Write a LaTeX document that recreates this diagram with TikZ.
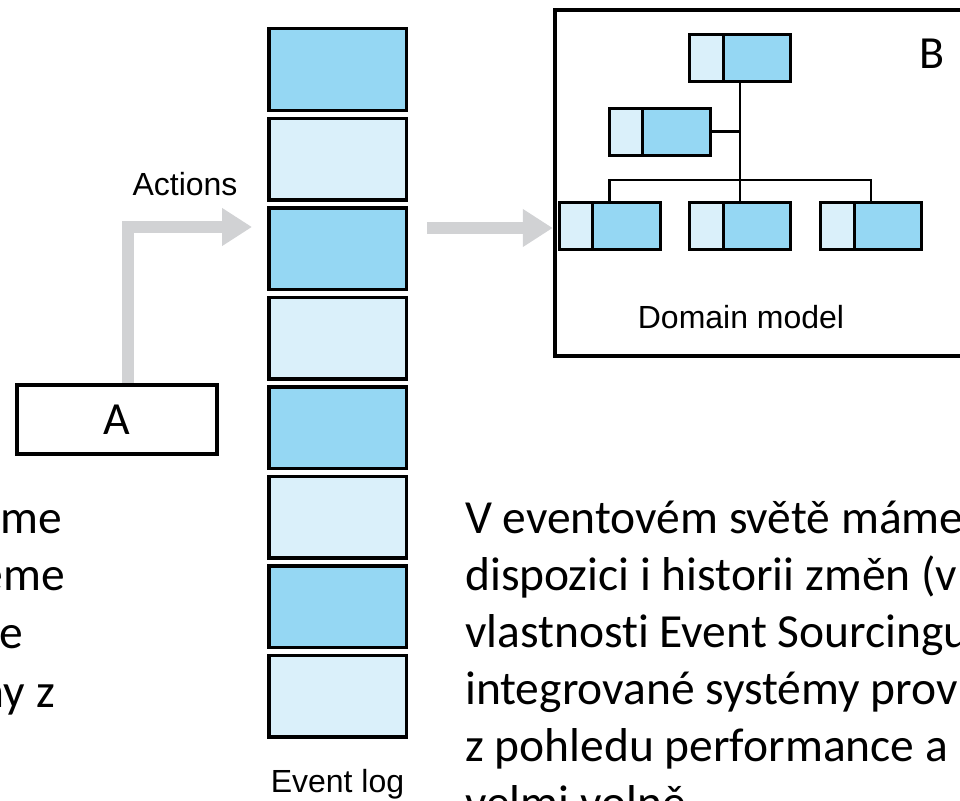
\documentclass[tikz,border=0pt]{standalone}
\usepackage{fontspec}
\setmainfont{Carlito}[Ligatures=NoCommon]
\newfontfamily\labelfont{Liberation Sans}
\usetikzlibrary{arrows.meta,positioning}
\definecolor{celldark}{HTML}{95D7F3}
\definecolor{celllight}{HTML}{DAF0FA}
\definecolor{arrowgrey}{HTML}{D1D2D4}
\tikzset{
  logcell/.style   = {shape=rectangle, draw, line width=3.5pt,
                      minimum width=137.5pt, minimum height=81.5pt,
                      inner sep=0pt},
  darkcell/.style  = {logcell, fill=celldark},
  lightcell/.style = {logcell, fill=celllight},
  classbox/.style  = {
    shape=rectangle, draw, line width=3pt,
    fill=celldark,
    minimum width=101pt, minimum height=47pt, inner sep=0pt,
    path picture={
      \fill[celllight] (path picture bounding box.south west)
        rectangle ([xshift=33.5pt]path picture bounding box.north west);
      \draw[line width=3pt] ([xshift=33.5pt]path picture bounding box.south west)
        -- ([xshift=33.5pt]path picture bounding box.north west);
      }
    },
  component/.style = {shape=rectangle, draw, line width=4.5pt, inner sep=0pt},
  caption/.style   = {font=\labelfont\fontsize{32}{38}\selectfont},
  letter/.style    = {font=\fontsize{46}{55}\selectfont},
  slidetext/.style = {font=\fontsize{47.5}{57}\selectfont, inner sep=0pt},
  bigarrow/.style  = {draw=arrowgrey, line width=12pt,
                      -{Triangle[length=30pt,width=36pt]}}
}
\begin{document}
\begin{tikzpicture}[x=1pt, y=-1pt]
    \useasboundingbox (0,0) rectangle (960,800);
    \clip (0,0) rectangle (960,800);

    % event log
    \node [darkcell] (cell1) at (337.5,69.5) {};
    \node [lightcell, below=4.5pt of cell1] (cell2) {};
    \node [darkcell, below=4.5pt of cell2] (cell3) {};
    \node [lightcell, below=4.5pt of cell3] (cell4) {};
    \node [darkcell, below=4.5pt of cell4] (cell5) {};
    \node [lightcell, below=4.5pt of cell5] (cell6) {};
    \node [darkcell, below=4.5pt of cell6] (cell7) {};
    \node [lightcell, below=4.5pt of cell7] (cell8) {};
    \node [caption, anchor=base] (loglabel) at (337.5,792) {Event log};

    % A and the actions
    \node [component, letter, minimum width=200pt, minimum height=69pt] (abox) at (117,419.5) {A};
    \coordinate (actionsend) at (252,227);
    \draw [bigarrow] ([xshift=11pt]abox.north) |- (actionsend);
    \node [caption, anchor=base] (actions) at (185,195) {Actions};

    % B with the domain model
    \node [component, minimum width=445pt, minimum height=346pt] (bbox) at (777.5,183) {};
    \node [letter] (blabel) at (932,54) {B};
    \coordinate (logout) at (427,228);
    \draw [bigarrow] (logout) -- (logout -| bbox.west);

    \node [classbox] (rootclass) at (740,58) {};
    \node [classbox] (midclass) at (659.5,131.5) {};
    \node [classbox] (leftclass) at (609.5,226) {};
    \node [classbox] (centreclass) at (740,226) {};
    \node [classbox] (rightclass) at (871,226) {};
    \coordinate (fork) at (740,180);
    \draw [line width=2.3pt] (rootclass) -- (centreclass);
    \draw [line width=2.3pt] (midclass) -- (midclass -| rootclass);
    \draw [line width=2.3pt] (leftclass) |- (fork) -| (rightclass);
    \node [caption, anchor=base] (domainlabel) at (741,328) {Domain model};

    % slide text
    \node [slidetext, anchor=base east] (lefttext1) at (62,533) {me};
    \node [slidetext, anchor=base east] (lefttext2) at (65,590) {eme};
    \node [slidetext, anchor=base east] (lefttext3) at (23,648) {e};
    \node [slidetext, anchor=base east] (lefttext4) at (55,707) {ny z};
    \node [slidetext, anchor=base west] (eventline1) at (465,533) {V eventovém světě máme};
    \node [slidetext, anchor=base west] (eventline2) at (465,590) {dispozici i historii změn (v};
    \node [slidetext, anchor=base west] (eventline3) at (465,647) {vlastnosti Event Sourcingu};
    \node [slidetext, anchor=base west] (eventline4) at (465,704) {integrované systémy prov};
    \node [slidetext, anchor=base west] (eventline5) at (465,761) {z pohledu performance a};
    \node [slidetext, anchor=base west] (eventline6) at (465,818) {velmi volně};
\end{tikzpicture}
\end{document}
